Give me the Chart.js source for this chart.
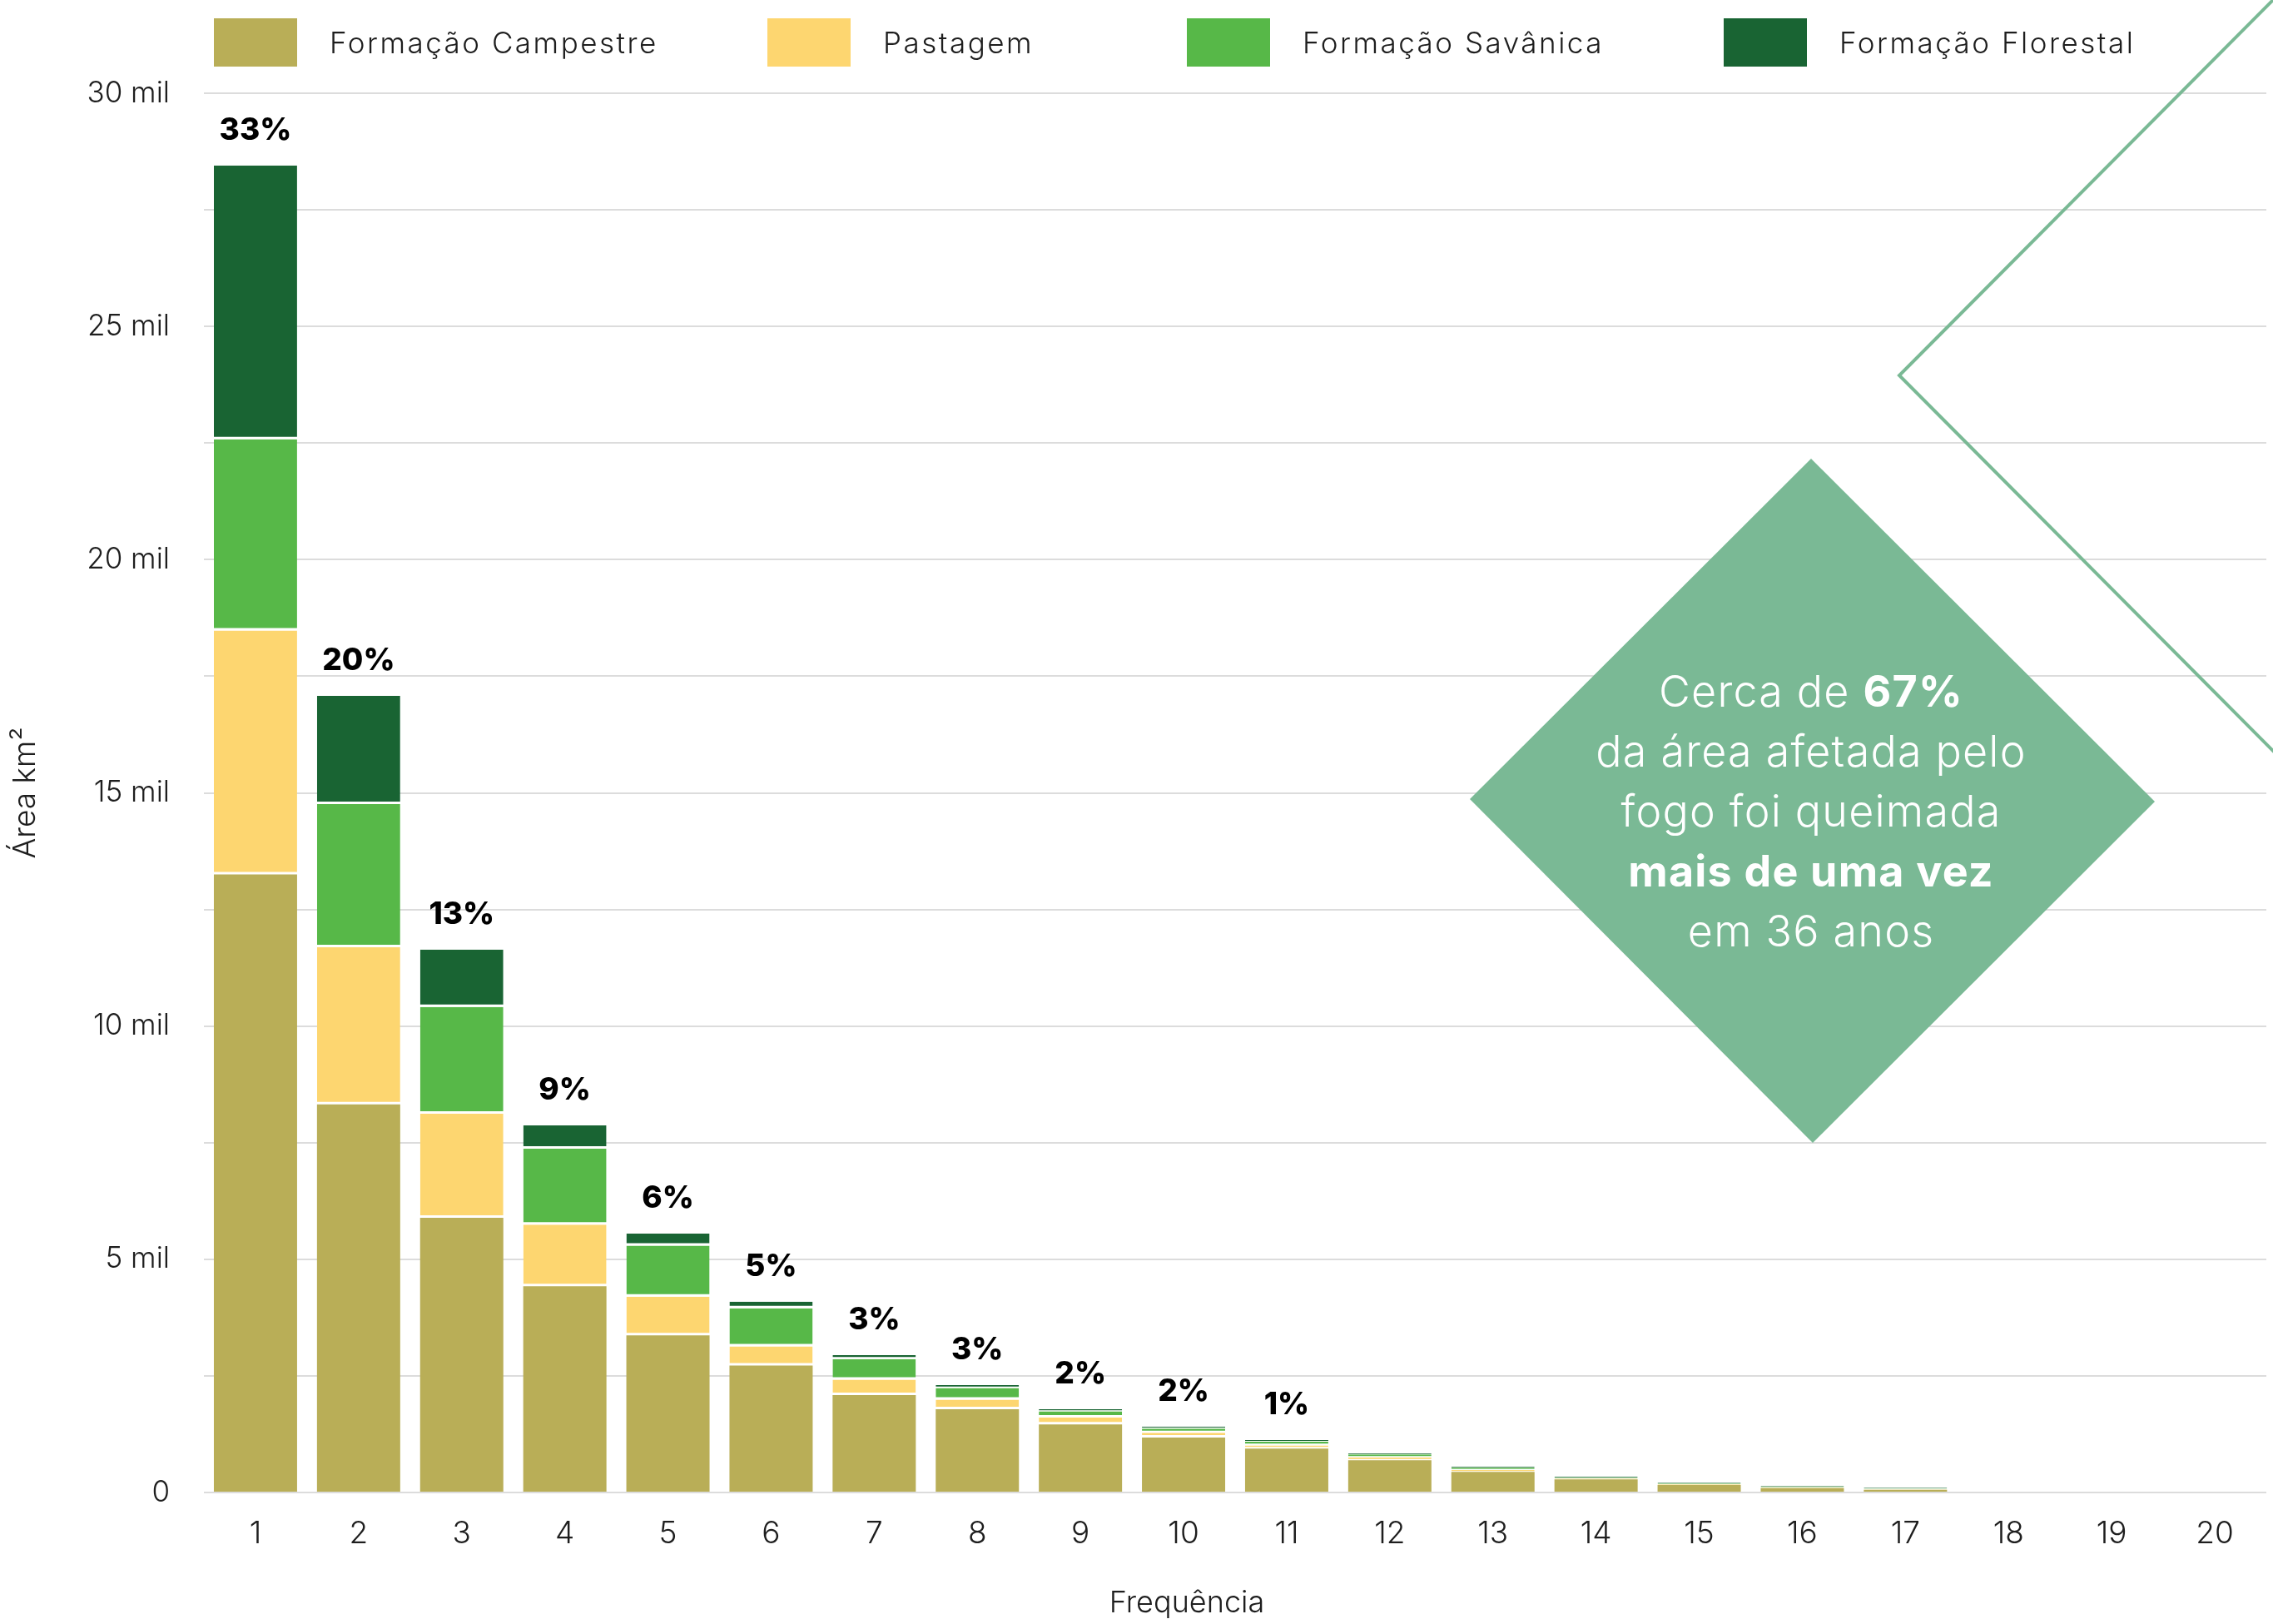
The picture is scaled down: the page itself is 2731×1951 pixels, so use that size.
<!DOCTYPE html>
<html lang="pt">
<head>
<meta charset="utf-8">
<title>Frequência de queimadas</title>
<script src="https://cdn.jsdelivr.net/npm/chart.js@4.4.1/dist/chart.umd.min.js"></script>
<style>
  html, body { margin: 0; padding: 0; background: #fff; }
  #wrap { position: relative; width: 2731px; height: 1951px; }
  #chart { position: absolute; left: 0; top: 0; }
  .item { position: absolute; top: 22px; height: 58px; display: flex; align-items: center;
          font: 300 35px Inter, "Open Sans", sans-serif; letter-spacing: 2.5px;
          color: #1e1e1e; white-space: nowrap; }
  .box { width: 100px; height: 58px; margin-right: 39px; }
</style>
</head>
<body>
<div id="wrap">
  <canvas id="chart" width="2731" height="1951"></canvas>
  <div id="legend"></div>
</div>
<script>
// frequency of fire (times burned) on the x axis
const frequencias = ['1','2','3','4','5','6','7','8','9','10','11','12','13','14','15','16','17','18','19','20'];

// area in km2
const campestre = [13250, 8320, 5890, 4420, 3370, 2720, 2090, 1785, 1460, 1180, 940, 690, 440, 280, 160, 95, 60, 0, 0, 0];
const pastagem  = [5230, 3370, 2230, 1320, 830, 410, 330, 205, 145, 100, 70, 60, 40, 20, 20, 15, 12, 0, 0, 0];
const savanica  = [4100, 3070, 2290, 1630, 1090, 820, 440, 250, 135, 90, 80, 65, 50, 15, 16, 15, 15, 0, 0, 0];
const florestal = [5870, 2320, 1230, 500, 260, 140, 85, 60, 45, 40, 35, 25, 23, 25, 18, 18, 20, 0, 0, 0];

// share of the burned area printed over each bar
const percentuais = ['33%','20%','13%','9%','6%','5%','3%','3%','2%','2%','1%','','','','','','','','',''];

const seriesNames = ['Formação Campestre', 'Pastagem', 'Formação Savânica', 'Formação Florestal'];
const seriesColors = ['#b9ae57', '#fdd670', '#57b848', '#196433'];

const FONT = 'Inter, "Open Sans", sans-serif';
const TEXT = '#1e1e1e';
const GREEN = '#7ab995';

// legend (html, boxes placed like the original)
const legendLeft = [257, 922, 1426, 2071];
const legend = document.getElementById('legend');
seriesNames.forEach((name, i) => {
    const item = document.createElement('div');
    item.className = 'item';
    item.style.left = legendLeft[i] + 'px';
    item.innerHTML = '<div class="box" style="background:' + seriesColors[i] + '"></div>' + name;
    legend.appendChild(item);
});

// diamond callout + diagonal line behind the bars
const calloutPlugin = {
    id: 'callout',
    beforeDatasetsDraw(chart) {
        const ctx = chart.ctx;
        ctx.save();
        ctx.strokeStyle = GREEN;
        ctx.lineWidth = 4;
        ctx.beginPath();
        ctx.moveTo(2736, -5);
        ctx.lineTo(2282, 451);
        ctx.lineTo(2736, 907);
        ctx.stroke();

        ctx.fillStyle = GREEN;
        ctx.beginPath();
        ctx.moveTo(2176, 551);
        ctx.lineTo(2589, 963);
        ctx.lineTo(2178, 1373);
        ctx.lineTo(1766, 960);
        ctx.closePath();
        ctx.fill();

        const lines = [
            [['Cerca de ', false], ['67%', true]],
            [['da área afetada pelo', false]],
            [['fogo foi queimada', false]],
            [['mais de uma vez', true]],
            [['em 36 anos', false]]
        ];
        ctx.fillStyle = '#ffffff';
        ctx.textBaseline = 'middle';
        ctx.textAlign = 'left';
        ctx.letterSpacing = '1.2px';
        lines.forEach((runs, li) => {
            let total = 0;
            runs.forEach(r => {
                ctx.font = (r[1] ? '700 ' : '300 ') + '52px ' + FONT;
                total += ctx.measureText(r[0]).width;
            });
            let x = 2176 - total / 2;
            const y = 833 + li * 72;
            runs.forEach(r => {
                ctx.font = (r[1] ? '700 ' : '300 ') + '52px ' + FONT;
                ctx.fillText(r[0], x, y);
                x += ctx.measureText(r[0]).width;
            });
        });
        ctx.restore();
    },
    afterDraw(chart) {
        // x axis title, sits a bit left of the plot centre in the original
        const ctx = chart.ctx;
        ctx.save();
        ctx.font = '300 36px ' + FONT;
        ctx.fillStyle = TEXT;
        ctx.textAlign = 'center';
        ctx.textBaseline = 'middle';
        ctx.fillText('Frequência', (chart.chartArea.left + chart.chartArea.right) / 2 - 58, 1926);
        ctx.restore();
    }
};

// percentage labels over the stacks
const percentPlugin = {
    id: 'percent',
    afterDatasetsDraw(chart) {
        const ctx = chart.ctx;
        const meta = chart.getDatasetMeta(chart.data.datasets.length - 1);
        ctx.save();
        ctx.font = '800 37px ' + FONT;
        ctx.fillStyle = '#000';
        ctx.textAlign = 'center';
        ctx.textBaseline = 'middle';
        meta.data.forEach((bar, i) => {
            if (!percentuais[i]) return;
            ctx.fillText(percentuais[i], bar.x, bar.y - 42);
        });
        ctx.restore();
    }
};

const seriesData = [campestre, pastagem, savanica, florestal];

new Chart(document.getElementById('chart'), {
    type: 'bar',
    data: {
        labels: frequencias,
        datasets: seriesData.map((d, i) => ({
            label: seriesNames[i],
            data: d,
            backgroundColor: seriesColors[i],
            borderColor: '#ffffff',
            borderWidth: i === 0 ? 0 : { bottom: 3, top: 0, left: 0, right: 0 },
            borderSkipped: false,
            categoryPercentage: 0.807,
            barPercentage: 1
        }))
    },
    options: {
        responsive: false,
        animation: false,
        layout: { padding: { top: 112, right: 8, bottom: 0, left: 0 } },
        plugins: {
            legend: { display: false },
            tooltip: { enabled: false }
        },
        scales: {
            x: {
                stacked: true,
                grid: { display: false, drawTicks: false },
                border: { display: false },
                ticks: { color: TEXT, font: { family: FONT, size: 37, weight: 300 }, padding: 28 },
                afterFit(scale) { scale.height = 158; }
            },
            y: {
                stacked: true,
                min: 0,
                max: 30000,
                grid: { color: '#dcdcdc', lineWidth: 2, drawTicks: false },
                border: { display: false },
                ticks: {
                    stepSize: 2500,
                    padding: 41,
                    color: TEXT,
                    font: { family: FONT, size: 35, weight: 300 },
                    callback: v => v % 5000 !== 0 ? '' : (v === 0 ? '0' : (v / 1000) + ' mil')
                },
                title: {
                    display: true,
                    text: 'Área km²',
                    color: TEXT,
                    font: { family: FONT, size: 37, weight: 300 },
                    padding: { top: 9, bottom: 0 }
                },
                afterFit(scale) { scale.width = 245; }
            }
        }
    },
    plugins: [calloutPlugin, percentPlugin]
});
</script>
</body>
</html>
